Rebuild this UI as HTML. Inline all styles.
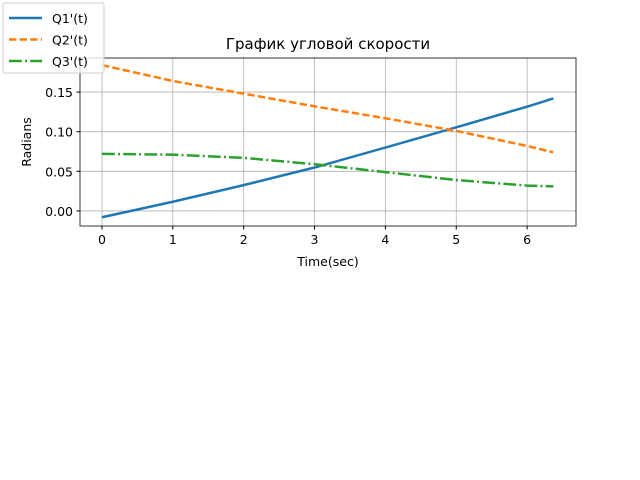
<!DOCTYPE html>
<html><head><meta charset="utf-8"><style>
body{margin:0;background:#fff;width:640px;height:480px;overflow:hidden;font-family:"Liberation Sans","DejaVu Sans",sans-serif}
</style></head><body>
<svg id="c" width="640" height="480" style="position:absolute;left:0;top:0" font-family="DejaVu Sans, Liberation Sans, sans-serif"></svg>
<script>
const xs=[0,1,2,3,4,5,6,6.37];
const q1=[-0.008,0.0116,0.0326,0.0548,0.0800,0.1055,0.1316,0.142];
const q2=[0.184,0.164,0.148,0.132,0.117,0.101,0.082,0.074];
const q3=[0.072,0.071,0.067,0.059,0.049,0.039,0.032,0.031];
const xticks=[0,1,2,3,4,5,6];
const yticks=[0,0.05,0.10,0.15];
const L=80,R=576,T=58,B=226,x0=-0.31,x1=6.69,y0=-0.019,y1=0.193;
const X=v=>L+(v-x0)/(x1-x0)*(R-L), Y=v=>B-(v-y0)/(y1-y0)*(B-T);
const s=document.getElementById('c'),NS='http://www.w3.org/2000/svg';
function el(t,a,p){const e=document.createElementNS(NS,t);for(const k in a)e.setAttribute(k,a[k]);(p||s).appendChild(e);return e;}
xticks.forEach(v=>{const g=el('line',{x1:X(v),x2:X(v),y1:T,y2:B,stroke:'#b0b0b0','stroke-width':0.8});

el('line',{x1:X(v),x2:X(v),y1:B,y2:B+3.5,stroke:'#000'});
const t=el('text',{x:X(v),y:B+18,'font-size':12.5,'text-anchor':'middle'});t.textContent=v;
});
yticks.forEach(v=>{const g=el('line',{x1:L,x2:R,y1:Y(v),y2:Y(v),stroke:'#b0b0b0','stroke-width':0.8});

el('line',{x1:L-3.5,x2:L,y1:Y(v),y2:Y(v),stroke:'#000'});
const t=el('text',{x:L-7,y:Y(v)+5,'font-size':12.5,'text-anchor':'end'});t.textContent=v.toFixed(2);
});
const fr=el('rect',{x:L,y:T,width:R-L,height:B-T,fill:'none',stroke:'#000','stroke-width':0.8});

const series=[[q1,'#1f77b4','', 'q1-line'],[q2,'#ff7f0e','7.4,3.2','q2-line'],[q3,'#2ca02c','12.8,3.2,2,3.2','q3-line']];
series.forEach(([d,c,da,n])=>{const p=el('path',{d:xs.map((v,i)=>(i?'L':'M')+X(v)+','+Y(d[i])).join(''),fill:'none',stroke:c,'stroke-width':2.5,'stroke-dasharray':da});
});
let t=el('text',{x:328,y:49,'font-size':15,'text-anchor':'middle'});t.textContent='График угловой скорости';

t=el('text',{x:328,y:266,'font-size':12.5,'text-anchor':'middle'});t.textContent='Time(sec)';

t=el('text',{x:31,y:142,'font-size':12.5,'text-anchor':'middle',transform:'rotate(-90 31 142)'});t.textContent='Radians';

const lg=el('rect',{x:3,y:3,width:101,height:70,rx:2,fill:'#fff',stroke:'#ccc','fill-opacity':0.8});

["Q1'(t)","Q2'(t)","Q3'(t)"].forEach((n,i)=>{const y=18+i*21.5;
const l=el('line',{x1:9,x2:42,y1:y,y2:y,stroke:series[i][1],'stroke-width':2.5,'stroke-dasharray':series[i][2]});

const tt=el('text',{x:52,y:y+5,'font-size':12.5});tt.textContent=n;
});
</script>
</body></html>
